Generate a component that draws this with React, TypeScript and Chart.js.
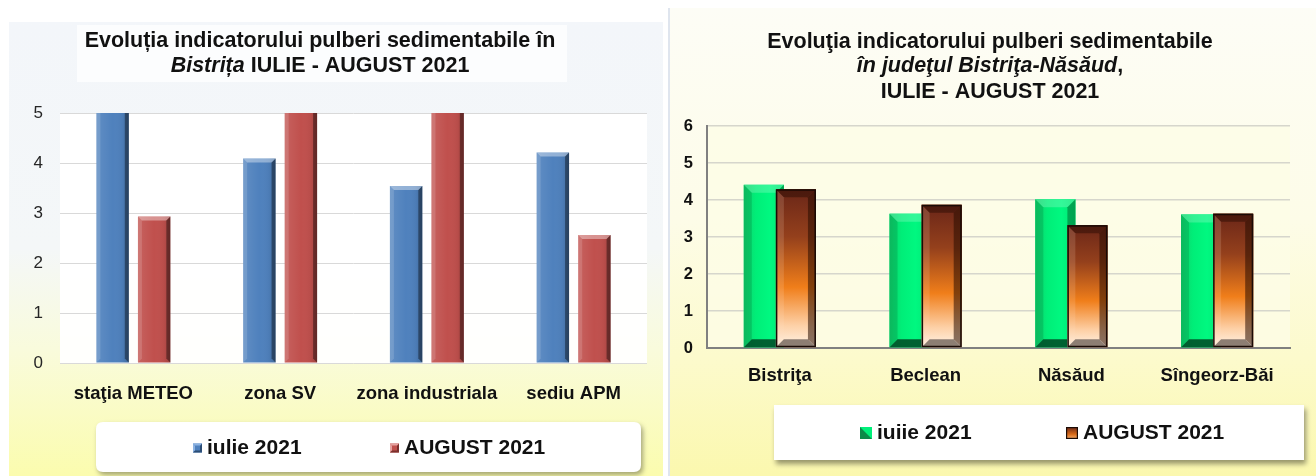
import React, { useEffect, useRef } from "react";
import { Chart, registerables } from "chart.js";

Chart.register(...registerables);

// ---------- LEFT CHART DATA ----------
const leftTitleLine1 = "Evoluția indicatorului pulberi sedimentabile în";
const leftTitleItalic = "Bistrița";
const leftTitleRest = " IULIE - AUGUST 2021";
const leftCategories = ["staţia METEO", "zona SV", "zona industriala", "sediu APM"];
const leftSeriesNames = ["iulie 2021", "AUGUST 2021"];
const leftJuly = [5.6, 4.09, 3.54, 4.21];
const leftAugust = [2.93, 5.8, 5.9, 2.56];
const leftAxisMax = 5;

// ---------- RIGHT CHART DATA ----------
const rightTitleLine1 = "Evoluţia indicatorului pulberi sedimentabile";
const rightTitleItalic = "în judeţul Bistriţa-Năsăud";
const rightTitleComma = ",";
const rightTitleLine3 = "IULIE - AUGUST 2021";
const rightCategories = ["Bistriţa", "Beclean", "Năsăud", "Sîngeorz-Băi"];
const rightSeriesNames = ["iuiie 2021", "AUGUST 2021"];
const rightJuly = [4.41, 3.63, 4.02, 3.61];
const rightAugust = [4.29, 3.87, 3.32, 3.63];
const rightAxisMax = 6;

const FONT = '"Liberation Sans", Arial, Helvetica, sans-serif';

type Part = { text: string; italic: boolean };

function drawMixedLine(ctx: CanvasRenderingContext2D, parts: Part[], cx: number, baseline: number, size: number) {
  const fonts = parts.map((p) => `${p.italic ? "italic " : ""}bold ${size}px ${FONT}`);
  let total = 0;
  const widths = parts.map((p, i) => {
    ctx.font = fonts[i];
    const w = ctx.measureText(p.text).width;
    total += w;
    return w;
  });
  let x = cx - total / 2;
  ctx.textAlign = "left";
  ctx.textBaseline = "alphabetic";
  parts.forEach((p, i) => {
    ctx.font = fonts[i];
    ctx.fillText(p.text, x, baseline);
    x += widths[i];
  });
}

function poly(ctx: CanvasRenderingContext2D, pts: number[][], color: string) {
  ctx.beginPath();
  ctx.moveTo(pts[0][0], pts[0][1]);
  for (let i = 1; i < pts.length; i++) ctx.lineTo(pts[i][0], pts[i][1]);
  ctx.closePath();
  ctx.fillStyle = color;
  ctx.fill();
}

function bevel(
  ctx: CanvasRenderingContext2D,
  x0: number, x1: number, y0: number, y1: number, b: number,
  c: { top?: string; right?: string; bottom?: string; left?: string }
) {
  const bb = Math.max(0, Math.min(b, (y1 - y0) / 2, (x1 - x0) / 2));
  if (c.left) poly(ctx, [[x0, y0], [x0 + bb, y0 + bb], [x0 + bb, y1 - bb], [x0, y1]], c.left);
  if (c.right) poly(ctx, [[x1, y0], [x1 - bb, y0 + bb], [x1 - bb, y1 - bb], [x1, y1]], c.right);
  if (c.top) poly(ctx, [[x0, y0], [x1, y0], [x1 - bb, y0 + bb], [x0 + bb, y0 + bb]], c.top);
  if (c.bottom) poly(ctx, [[x0, y1], [x1, y1], [x1 - bb, y1 - bb], [x0 + bb, y1 - bb]], c.bottom);
}

function roundRect(ctx: CanvasRenderingContext2D, x: number, y: number, w: number, h: number, r: number) {
  ctx.beginPath();
  ctx.moveTo(x + r, y);
  ctx.lineTo(x + w - r, y);
  ctx.quadraticCurveTo(x + w, y, x + w, y + r);
  ctx.lineTo(x + w, y + h - r);
  ctx.quadraticCurveTo(x + w, y + h, x + w - r, y + h);
  ctx.lineTo(x + r, y + h);
  ctx.quadraticCurveTo(x, y + h, x, y + h - r);
  ctx.lineTo(x, y + r);
  ctx.quadraticCurveTo(x, y, x + r, y);
  ctx.closePath();
}

function clipArea(ctx: CanvasRenderingContext2D, a: any) {
  ctx.beginPath();
  ctx.rect(a.left, a.top, a.right - a.left, a.bottom - a.top);
  ctx.clip();
}

// ---------- LEFT PLUGINS ----------
const leftBgPlugin = {
  id: "leftBg",
  beforeDraw(chart: any) {
    const { ctx, width, height, chartArea: a } = chart;
    ctx.save();
    ctx.fillStyle = "#ffffff";
    ctx.fillRect(0, 0, width, height);
    const g = ctx.createLinearGradient(0, 22, 0, height);
    g.addColorStop(0, "#f3f6fa");
    g.addColorStop(0.5, "#f4f7f8");
    g.addColorStop(0.72, "#f9fbdc");
    g.addColorStop(1, "#fbfcae");
    ctx.fillStyle = g;
    ctx.fillRect(9, 22, width - 9, height - 22);
    // white box behind title
    ctx.fillStyle = "rgba(255,255,255,0.75)";
    ctx.fillRect(77, 25, 490, 57);
    ctx.fillStyle = "rgba(255,255,255,0.94)";
    ctx.fillRect(a.left, a.top, a.right - a.left, a.bottom - a.top);
    ctx.restore();
  },
};

const leftBarsPlugin = {
  id: "leftBars",
  afterDatasetsDraw(chart: any) {
    const { ctx, chartArea: a } = chart;
    ctx.save();
    clipArea(ctx, a);
    chart.data.datasets.forEach((ds: any, di: number) => {
      const meta = chart.getDatasetMeta(di);
      meta.data.forEach((el: any) => {
        const { x, y, base, width } = el.getProps(["x", "y", "base", "width"], true);
        const x0 = x - width / 2;
        const x1 = x + width / 2;
        const g = ctx.createLinearGradient(x0, 0, x1, 0);
        g.addColorStop(0, "rgba(255,255,255,0.10)");
        g.addColorStop(0.5, "rgba(255,255,255,0)");
        g.addColorStop(0.8, "rgba(0,0,0,0.04)");
        g.addColorStop(1, "rgba(0,0,0,0.18)");
        ctx.fillStyle = g;
        ctx.fillRect(x0, y, width, base - y);
        bevel(ctx, x0, x1, y, base, 4, {
          left: "rgba(255,255,255,0.14)",
          right: "rgba(0,0,0,0.38)",
          top: "rgba(255,255,255,0.38)",
        });
      });
    });
    ctx.restore();
  },
};

const leftDecorPlugin = {
  id: "leftDecor",
  afterDraw(chart: any) {
    const { ctx } = chart;
    ctx.save();
    ctx.fillStyle = "#111";
    drawMixedLine(ctx, [{ text: leftTitleLine1, italic: false }], 320, 47, 21.5);
    drawMixedLine(ctx, [{ text: leftTitleItalic, italic: true }, { text: leftTitleRest, italic: false }], 320, 72, 21.5);

    // legend box
    ctx.save();
    ctx.shadowColor = "rgba(0,0,0,0.35)";
    ctx.shadowBlur = 5;
    ctx.shadowOffsetX = 2;
    ctx.shadowOffsetY = 3;
    roundRect(ctx, 96, 422, 545, 50, 7);
    ctx.fillStyle = "#ffffff";
    ctx.fill();
    ctx.restore();

    const colors = [
      ["#4f81bd", "#8db3e2", "#2c4d75"],
      ["#c0504d", "#e6a3a1", "#7a2f2d"],
    ];
    const markerX = [193, 390];
    const yc = 448;
    chart.data.datasets.forEach((ds: any, i: number) => {
      const mx = markerX[i];
      const s = 9;
      ctx.fillStyle = colors[i][0];
      ctx.fillRect(mx, yc - s / 2, s, s);
      bevel(ctx, mx, mx + s, yc - s / 2, yc + s / 2, 2, { top: colors[i][1], left: colors[i][1], right: colors[i][2], bottom: colors[i][2] });
      ctx.font = `bold 21px ${FONT}`;
      ctx.fillStyle = "#111";
      ctx.textAlign = "left";
      ctx.textBaseline = "middle";
      ctx.fillText(ds.label, mx + 14, yc);
    });
    ctx.restore();
  },
};

// ---------- RIGHT PLUGINS ----------
const rightBgPlugin = {
  id: "rightBg",
  beforeDraw(chart: any) {
    const { ctx, width, height, chartArea: a } = chart;
    ctx.save();
    ctx.fillStyle = "#ffffff";
    ctx.fillRect(0, 0, width, height);
    const g = ctx.createLinearGradient(0, 8, 0, height);
    g.addColorStop(0, "#fdfdf6");
    g.addColorStop(0.45, "#fdfce8");
    g.addColorStop(0.75, "#fcfacc");
    g.addColorStop(1, "#fbf8ae");
    ctx.fillStyle = g;
    ctx.fillRect(0, 8, width, height - 8);
    ctx.fillStyle = "#dfe5ee";
    ctx.fillRect(0, 8, 2, height - 8);
    ctx.fillStyle = "rgba(253,252,230,0.8)";
    ctx.fillRect(a.left, a.top, a.right - a.left, a.bottom - a.top);
    ctx.restore();
  },
};

const rightBarsPlugin = {
  id: "rightBars",
  afterDatasetsDraw(chart: any) {
    const { ctx, chartArea: a } = chart;
    ctx.save();
    clipArea(ctx, a);
    chart.data.datasets.forEach((ds: any, di: number) => {
      const meta = chart.getDatasetMeta(di);
      meta.data.forEach((el: any) => {
        const { x, y, base, width } = el.getProps(["x", "y", "base", "width"], true);
        const x0 = x - width / 2;
        const x1 = x + width / 2;
        if (di === 0) {
          const g = ctx.createLinearGradient(x0, 0, x1, 0);
          g.addColorStop(0, "#10d06c");
          g.addColorStop(0.3, "#00ee78");
          g.addColorStop(0.65, "#00f880");
          g.addColorStop(1, "#00e674");
          ctx.fillStyle = g;
          ctx.fillRect(x0, y, width, base - y);
          bevel(ctx, x0, x1, y, base, 8, {
            left: "rgba(0,110,50,0.24)",
            top: "rgba(255,255,255,0.2)",
            right: "rgba(0,80,35,0.45)",
            bottom: "rgba(0,70,35,0.85)",
          });
        } else {
          const g = ctx.createLinearGradient(0, y, 0, base);
          g.addColorStop(0, "#6a2618");
          g.addColorStop(0.3, "#94401c");
          g.addColorStop(0.62, "#f07e1a");
          g.addColorStop(0.86, "#fdd0a6");
          g.addColorStop(1, "#fff3e6");
          ctx.fillStyle = g;
          ctx.fillRect(x0, y, width, base - y);
          bevel(ctx, x0, x1, y, base, 8, {
            left: "rgba(255,225,200,0.16)",
            top: "rgba(50,15,5,0.55)",
            right: "rgba(40,12,0,0.55)",
            bottom: "rgba(135,120,110,0.95)",
          });
          ctx.strokeStyle = "#1a0a05";
          ctx.lineWidth = 1.5;
          ctx.strokeRect(x0 + 0.75, y + 0.75, width - 1.5, base - y - 1.5);
        }
      });
    });
    ctx.restore();
  },
};

const rightDecorPlugin = {
  id: "rightDecor",
  afterDraw(chart: any) {
    const { ctx } = chart;
    ctx.save();
    ctx.fillStyle = "#111";
    drawMixedLine(ctx, [{ text: rightTitleLine1, italic: false }], 322, 48, 21.5);
    drawMixedLine(ctx, [{ text: rightTitleItalic, italic: true }, { text: rightTitleComma, italic: false }], 322, 72, 21.5);
    drawMixedLine(ctx, [{ text: rightTitleLine3, italic: false }], 322, 98, 21.5);

    ctx.save();
    ctx.shadowColor = "rgba(0,0,0,0.4)";
    ctx.shadowBlur = 5;
    ctx.shadowOffsetX = 2;
    ctx.shadowOffsetY = 4;
    ctx.fillStyle = "#ffffff";
    ctx.fillRect(106, 405, 530, 55);
    ctx.restore();

    const markerX = [192, 398];
    const yc = 433;
    const s = 12;
    chart.data.datasets.forEach((ds: any, i: number) => {
      const mx = markerX[i];
      const top = yc - s / 2;
      if (i === 0) {
        ctx.fillStyle = "#00f07a";
        ctx.fillRect(mx, top, s, s);
        poly(ctx, [[mx, top], [mx + s, top + s], [mx, top + s]], "#0b8a48");
      } else {
        const g = ctx.createLinearGradient(0, top, 0, top + s);
        g.addColorStop(0, "#6a2618");
        g.addColorStop(0.6, "#d86a18");
        g.addColorStop(1, "#f6b070");
        ctx.fillStyle = g;
        ctx.fillRect(mx, top, s, s);
        ctx.strokeStyle = "#1a0a05";
        ctx.lineWidth = 1.2;
        ctx.strokeRect(mx + 0.6, top + 0.6, s - 1.2, s - 1.2);
      }
      ctx.font = `bold 21px ${FONT}`;
      ctx.fillStyle = "#111";
      ctx.textAlign = "left";
      ctx.textBaseline = "middle";
      ctx.fillText(ds.label, mx + 17, yc);
    });
    ctx.restore();
  },
};

function leftConfig(): any {
  return {
    type: "bar",
    data: {
      labels: leftCategories,
      datasets: [
        { label: leftSeriesNames[0], data: leftJuly, backgroundColor: "#4f81bd", categoryPercentage: 0.566, barPercentage: 0.78, clip: 0 },
        { label: leftSeriesNames[1], data: leftAugust, backgroundColor: "#c0504d", categoryPercentage: 0.566, barPercentage: 0.78, clip: 0 },
      ],
    },
    options: {
      responsive: false,
      animation: false,
      devicePixelRatio: 1,
      layout: { padding: { top: 113, left: 0, right: 16, bottom: 73 } },
      plugins: { legend: { display: false }, title: { display: false }, tooltip: { enabled: false } },
      scales: {
        x: {
          grid: { display: false },
          border: { display: false },
          ticks: { font: { family: FONT, size: 18.5, weight: "bold" }, color: "#111", padding: 12, maxRotation: 0, autoSkip: false },
          afterFit: (s: any) => { s.height = 40; },
        },
        y: {
          min: 0,
          max: leftAxisMax,
          ticks: { stepSize: 1, font: { family: FONT, size: 17 }, color: "#262626", padding: 17 },
          grid: { color: "#d9d9d9", drawTicks: false, lineWidth: 1 },
          border: { display: false },
          afterFit: (s: any) => { s.width = 60; },
        },
      },
    },
    plugins: [leftBgPlugin, leftBarsPlugin, leftDecorPlugin],
  };
}

function rightConfig(): any {
  return {
    type: "bar",
    data: {
      labels: rightCategories,
      datasets: [
        { label: rightSeriesNames[0], data: rightJuly, backgroundColor: "#00f07a", categoryPercentage: 0.44, barPercentage: 1.25, clip: 0 },
        { label: rightSeriesNames[1], data: rightAugust, backgroundColor: "#b85a1a", categoryPercentage: 0.44, barPercentage: 1.25, clip: 0 },
      ],
    },
    options: {
      responsive: false,
      animation: false,
      devicePixelRatio: 1,
      layout: { padding: { top: 126, left: 0, right: 26, bottom: 88 } },
      plugins: { legend: { display: false }, title: { display: false }, tooltip: { enabled: false } },
      scales: {
        x: {
          grid: { display: false },
          border: { display: true, color: "#808080", width: 2 },
          ticks: { font: { family: FONT, size: 18.5, weight: "bold" }, color: "#111", padding: 9, maxRotation: 0, autoSkip: false },
          afterFit: (s: any) => { s.height = 40; },
        },
        y: {
          min: 0,
          max: rightAxisMax,
          ticks: { stepSize: 1, font: { family: FONT, size: 16.5, weight: "bold" }, color: "#111", padding: 14 },
          grid: { color: "#d6d6cc", drawTicks: false, lineWidth: 1.5 },
          border: { display: true, color: "#808080", width: 2 },
          afterFit: (s: any) => { s.width = 39; },
        },
      },
    },
    plugins: [rightBgPlugin, rightBarsPlugin, rightDecorPlugin],
  };
}

export default function App() {
  const leftRef = useRef<HTMLCanvasElement>(null);
  const rightRef = useRef<HTMLCanvasElement>(null);
  useEffect(() => {
    const l = new Chart(leftRef.current as HTMLCanvasElement, leftConfig());
    const r = new Chart(rightRef.current as HTMLCanvasElement, rightConfig());
    return () => {
      l.destroy();
      r.destroy();
    };
  }, []);
  return (
    <div style={{ position: "fixed", left: 0, top: 0, width: 1316, height: 476, background: "#ffffff", overflow: "hidden" }}>
      <canvas ref={leftRef} width={663} height={476} style={{ position: "absolute", left: 0, top: 0, width: 663, height: 476 }} />
      <canvas ref={rightRef} width={648} height={476} style={{ position: "absolute", left: 668, top: 0, width: 648, height: 476 }} />
    </div>
  );
}
